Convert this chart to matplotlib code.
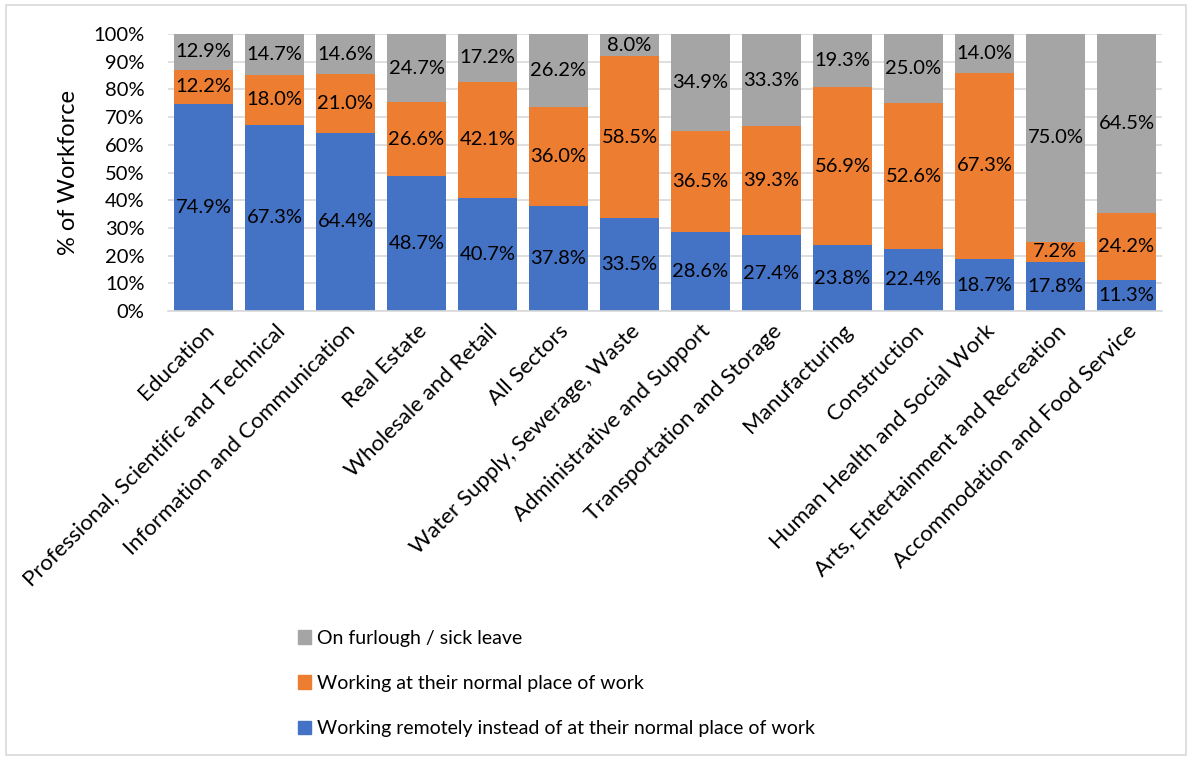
import matplotlib
matplotlib.use("Agg")
import matplotlib.pyplot as plt
from matplotlib.patches import Rectangle, Patch
import numpy as np

plt.rcParams['font.family'] = ['Lato', 'DejaVu Sans']

categories = ["Education", "Professional, Scientific and Technical",
              "Information and Communication", "Real Estate",
              "Wholesale and Retail", "All Sectors",
              "Water Supply, Sewerage, Waste", "Administrative and Support",
              "Transportation and Storage", "Manufacturing", "Construction",
              "Human Health and Social Work", "Arts, Entertainment and Recreation",
              "Accommodation and Food Service"]
remote = [74.9, 67.3, 64.4, 48.7, 40.7, 37.8, 33.5, 28.6, 27.4, 23.8, 22.4, 18.7, 17.8, 11.3]
normal = [12.2, 18.0, 21.0, 26.6, 42.1, 36.0, 58.5, 36.5, 39.3, 56.9, 52.6, 67.3, 7.2, 24.2]
furlough = [12.9, 14.7, 14.6, 24.7, 17.2, 26.2, 8.0, 34.9, 33.3, 19.3, 25.0, 14.0, 75.0, 64.5]
series_names = ["Working remotely instead of at their normal place of work",
                "Working at their normal place of work",
                "On furlough / sick leave"]
colors = ["#4472C4", "#ED7D31", "#A5A5A5"]
yticks = [0, 10, 20, 30, 40, 50, 60, 70, 80, 90, 100]

fig = plt.figure(figsize=(11.9, 7.58), dpi=100)
ax = fig.add_axes([168/1190, 1-311/758, (1162-168)/1190, (311-34)/758])

x = np.arange(len(categories))
width = 0.83
bottom = np.zeros(len(categories))
for vals, col in zip([remote, normal, furlough], colors):
    v = np.array(vals)
    ax.bar(x, v, width, bottom=bottom, color=col, zorder=2)
    for xi, b, h in zip(x, bottom, v):
        ax.text(xi, b + h/2, f"{h:.1f}%", ha='center', va='center',
                fontsize=14.5, color='black', zorder=3)
    bottom = bottom + v

ax.set_xlim(-0.5, len(categories) - 0.5)
ax.set_ylim(0, 100)
ax.set_yticks(yticks)
ax.set_yticklabels([f"{t}%" for t in yticks], fontsize=14.5)
ax.yaxis.grid(True, color='#D9D9D9', linewidth=1.2, zorder=0)
ax.set_axisbelow(True)
for s in ['top', 'right', 'left']:
    ax.spines[s].set_visible(False)
ax.spines['bottom'].set_color('#D9D9D9')
ax.spines['bottom'].set_linewidth(1.2)
ax.tick_params(axis='y', length=0, pad=17)
ax.tick_params(axis='x', length=0, pad=7)
ax.set_xticks(x)
ax.set_xticklabels(categories, rotation=45, ha='right', rotation_mode='anchor', fontsize=16)
ax.set_ylabel("% of Workforce", fontsize=17, labelpad=10)

handles = [Patch(color=colors[2]), Patch(color=colors[1]), Patch(color=colors[0])]
labels = [series_names[2], series_names[1], series_names[0]]
fig.legend(handles, labels, loc='upper left', bbox_to_anchor=(290/1190, 1-622/758),
           frameon=False, fontsize=14, handlelength=0.7, handleheight=0.7,
           handletextpad=0.3, labelspacing=1.45, borderaxespad=0)

fig.patches.append(Rectangle((6/1190, 3/758), 1180/1190, 750/758, transform=fig.transFigure,
                             fill=False, edgecolor='#D9D9D9', linewidth=1.2))

fig.savefig("out.png", dpi=100)
